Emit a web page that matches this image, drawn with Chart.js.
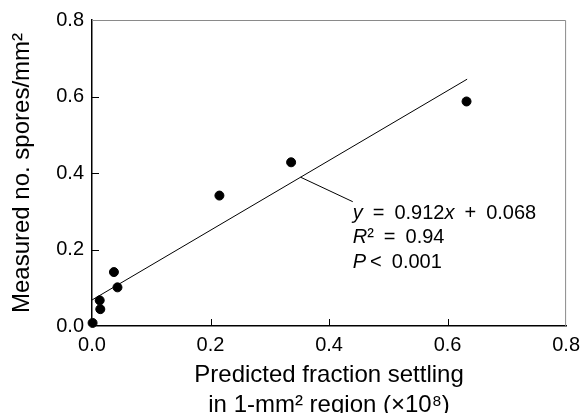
<!DOCTYPE html>
<html>
<head>
<meta charset="utf-8">
<script src="https://cdn.jsdelivr.net/npm/chart.js@4.4.0/dist/chart.umd.min.js"></script>
<style>
  html, body { margin: 0; padding: 0; background: #fff; }
  #sporechart { display: block; }
</style>
</head>
<body>
<canvas id="sporechart" width="587" height="413"></canvas>
<script>
const predicted = [0.001, 0.013, 0.014, 0.037, 0.043, 0.215, 0.336, 0.632];
const measured = [0.008, 0.067, 0.044, 0.141, 0.101, 0.341, 0.428, 0.587];
const axisTicks = [0.0, 0.2, 0.4, 0.6, 0.8];

// regression y = slope * x + intercept, drawn over this x range
const fitSlope = 0.912;
const fitIntercept = 0.068;
const fitRange = [0, 0.633];
const fitR2 = '0.94';
const fitP = '0.001';

// leader from the fit line to the equation, and where the equation sits
const leaderFrom = [0.352, 0.389];
const leaderTo = [0.44, 0.325];
const noteAt = [0.44, 0.28];

const FONT = '"Liberation Sans", Arial, Helvetica, sans-serif';

const points = predicted.map((x, i) => ({ x: x, y: measured[i] }));
const fitLine = fitRange.map(x => ({ x: x, y: fitSlope * x + fitIntercept }));

// each line is a list of [text, italic]
const noteLines = [
  [['y', true], ['\u2002=\u2002' + fitSlope.toFixed(3), false], ['x', true], ['\u2002+\u2002' + fitIntercept.toFixed(3), false]],
  [['R', true], ['\u00b2\u2002=\u2002' + fitR2, false]],
  [['P', true], ['\u2009<\u2002' + fitP, false]]
];

const extras = {
  id: 'extras',
  afterDatasetsDraw(chart) {
    const ctx = chart.ctx;
    const xs = chart.scales.x, ys = chart.scales.y;
    const a = chart.chartArea;
    ctx.save();

    // light frame on top and right
    ctx.strokeStyle = '#8a8a8a';
    ctx.lineWidth = 1;
    ctx.beginPath();
    ctx.moveTo(a.left, a.top + 0.5);
    ctx.lineTo(a.right - 0.5, a.top + 0.5);
    ctx.lineTo(a.right - 0.5, a.bottom);
    ctx.stroke();

    // inward tick marks
    ctx.strokeStyle = '#000';
    ctx.lineWidth = 1;
    ctx.beginPath();
    axisTicks.slice(1, -1).forEach(v => {
      const px = Math.round(xs.getPixelForValue(v)) + 0.5;
      ctx.moveTo(px, a.bottom);
      ctx.lineTo(px, a.bottom - 7);
      const py = Math.round(ys.getPixelForValue(v)) + 0.5;
      ctx.moveTo(a.left, py);
      ctx.lineTo(a.left + 7, py);
    });
    ctx.stroke();

    // leader line
    ctx.beginPath();
    ctx.moveTo(xs.getPixelForValue(leaderFrom[0]), ys.getPixelForValue(leaderFrom[1]));
    ctx.lineTo(xs.getPixelForValue(leaderTo[0]), ys.getPixelForValue(leaderTo[1]));
    ctx.stroke();

    // equation text
    ctx.fillStyle = '#000';
    ctx.textBaseline = 'alphabetic';
    ctx.textAlign = 'left';
    const x0 = xs.getPixelForValue(noteAt[0]);
    let y = ys.getPixelForValue(noteAt[1]);
    noteLines.forEach(line => {
      let x = x0;
      line.forEach(([txt, it]) => {
        ctx.font = (it ? 'italic ' : '') + '20px ' + FONT;
        ctx.fillText(txt, x, y);
        x += ctx.measureText(txt).width;
      });
      y += 24.5;
    });
    ctx.restore();
  }
};

new Chart(document.getElementById('sporechart'), {
  type: 'scatter',
  data: {
    datasets: [{
      type: 'line',
      data: fitLine,
      borderColor: '#000',
      borderWidth: 1,
      pointRadius: 0,
      fill: false
    }, {
      data: points,
      backgroundColor: '#000',
      borderColor: '#000',
      pointRadius: 4.5,
      clip: false
    }]
  },
  options: {
    responsive: false,
    animation: false,
    events: [],
    layout: { padding: { top: 16, right: 15, left: 0, bottom: 0 } },
    plugins: {
      legend: { display: false },
      tooltip: { enabled: false }
    },
    scales: {
      x: {
        type: 'linear',
        min: 0,
        max: 0.8,
        afterBuildTicks: s => { s.ticks = axisTicks.map(v => ({ value: v })); },
        afterFit: s => { s.height = 87; },
        grid: { display: false, drawTicks: false },
        border: { display: true, color: '#000', width: 1.5 },
        ticks: {
          color: '#000',
          padding: 7,
          font: { family: FONT, size: 20 },
          callback: v => v.toFixed(1)
        },
        title: {
          display: true,
          text: ['Predicted fraction settling', 'in 1-mm\u00b2 region (\u00d710\u2078)'],
          color: '#000',
          font: { family: FONT, size: 24, lineHeight: 1.23 },
          padding: { top: 0, bottom: -7 }
        }
      },
      y: {
        type: 'linear',
        min: 0,
        max: 0.8,
        afterBuildTicks: s => { s.ticks = axisTicks.map(v => ({ value: v })); },
        afterFit: s => { s.width = 92; },
        grid: { display: false, drawTicks: false },
        border: { display: true, color: '#000', width: 1.5 },
        ticks: {
          color: '#000',
          padding: 8,
          font: { family: FONT, size: 20 },
          callback: v => v.toFixed(1)
        },
        title: {
          display: true,
          text: 'Measured no. spores/mm\u00b2',
          color: '#000',
          font: { family: FONT, size: 24, lineHeight: 1.2 },
          padding: { top: 8, bottom: 0 }
        }
      }
    }
  },
  plugins: [extras]
});
</script>
</body>
</html>
